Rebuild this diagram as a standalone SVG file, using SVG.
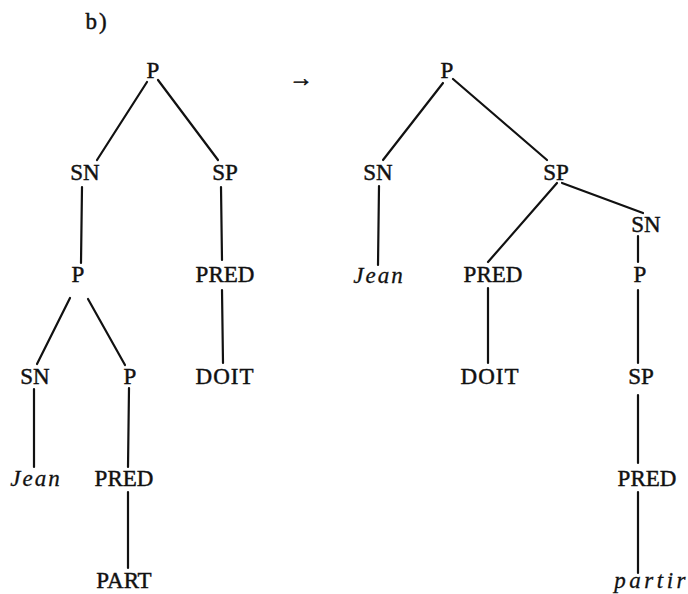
<svg xmlns="http://www.w3.org/2000/svg" width="688" height="594" viewBox="0 0 688 594">
<style>
text{font-family:"Liberation Serif","Times New Roman",serif;font-size:23px;fill:#111;stroke:#111;stroke-width:0.45;text-anchor:middle}
text.it{font-style:italic;letter-spacing:2px;stroke-width:0.3}
text.it2{font-style:italic;letter-spacing:3.5px;stroke-width:0.3;text-anchor:end}
#edges line{stroke:#111;stroke-width:2.2;stroke-linecap:round}
</style>
<rect width="688" height="594" fill="#fff"/>
<text x="97" y="29" style="letter-spacing:2px">b)</text>
<text x="301" y="86" style="font-size:24px;stroke-width:0.6">→</text>
<g id="edges">
<line x1="147" y1="82" x2="97" y2="160"/>
<line x1="158" y1="80" x2="218" y2="160"/>
<line x1="82" y1="187" x2="81" y2="263"/>
<line x1="221" y1="187" x2="222" y2="260"/>
<line x1="70" y1="298" x2="37" y2="364"/>
<line x1="88" y1="299" x2="125" y2="365"/>
<line x1="222" y1="290" x2="223" y2="363"/>
<line x1="34" y1="389" x2="34" y2="467"/>
<line x1="129" y1="388" x2="128" y2="467"/>
<line x1="128" y1="492" x2="128" y2="568"/>
<line x1="443" y1="83" x2="383" y2="160"/>
<line x1="453" y1="79" x2="547" y2="160"/>
<line x1="379" y1="186" x2="378" y2="265"/>
<line x1="557" y1="183" x2="488" y2="262"/>
<line x1="562" y1="183" x2="643" y2="213"/>
<line x1="638" y1="236" x2="638" y2="262"/>
<line x1="488" y1="288" x2="488" y2="363"/>
<line x1="638" y1="290" x2="638" y2="363"/>
<line x1="638" y1="395" x2="638" y2="463"/>
<line x1="638" y1="492" x2="638" y2="573"/>
</g>
<g id="L_P"><text x="153" y="78">P</text></g>
<g id="L_SN"><text x="85" y="180">SN</text></g>
<g id="L_SP"><text x="225" y="180">SP</text></g>
<g id="L_P2"><text x="78" y="282">P</text></g>
<g id="L_PRED"><text x="225" y="282">PRED</text></g>
<g id="L_SN2"><text x="35" y="384">SN</text></g>
<g id="L_P3"><text x="130" y="384">P</text></g>
<g id="L_DOIT"><text x="225" y="384" style="letter-spacing:1px">DOIT</text></g>
<g id="L_Jean"><text class="it" x="36" y="486">Jean</text></g>
<g id="L_PRED2"><text x="124" y="486">PRED</text></g>
<g id="L_PART"><text x="124" y="588">PART</text></g>
<g id="R_P"><text x="447" y="78">P</text></g>
<g id="R_SN"><text x="378" y="180">SN</text></g>
<g id="R_SP"><text x="556" y="180">SP</text></g>
<g id="R_SN2"><text x="646" y="232">SN</text></g>
<g id="R_Jean"><text class="it" x="379" y="283">Jean</text></g>
<g id="R_PRED"><text x="493" y="282">PRED</text></g>
<g id="R_P2"><text x="640" y="282">P</text></g>
<g id="R_DOIT"><text x="490" y="384" style="letter-spacing:1px">DOIT</text></g>
<g id="R_SP2"><text x="641" y="384">SP</text></g>
<g id="R_PRED2"><text x="647" y="486">PRED</text></g>
<g id="R_partir"><text class="it2" x="689" y="588">partir</text></g>
</svg>
